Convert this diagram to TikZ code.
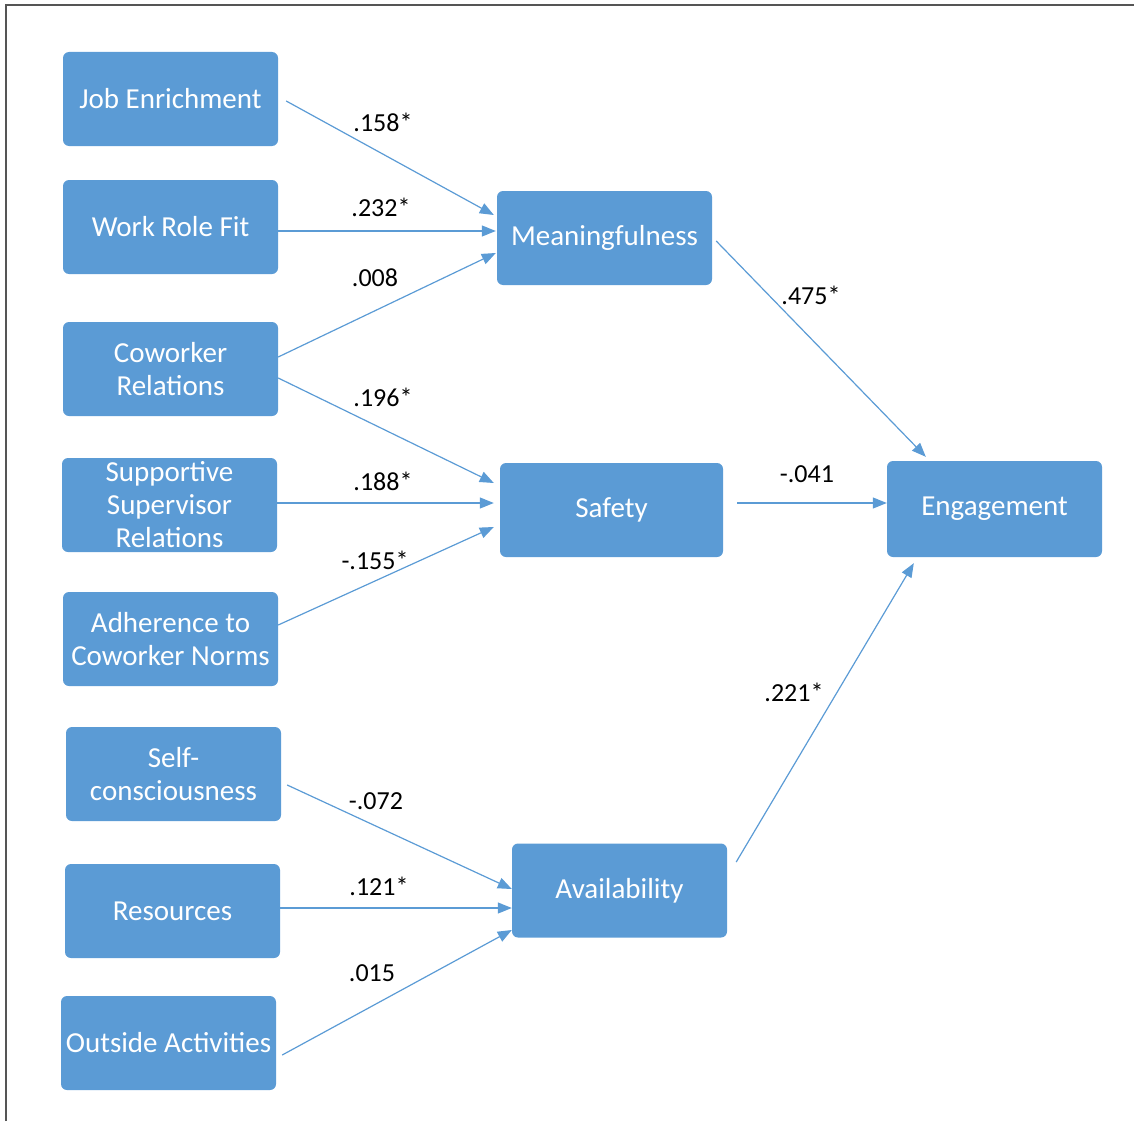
\documentclass[tikz,border=0pt]{standalone}
\usepackage{fontspec}
\setmainfont{Carlito}
\usetikzlibrary{arrows.meta,calc}
\definecolor{boxblue}{HTML}{5B9BD5}
\definecolor{framegray}{HTML}{555555}
\tikzset{
  varbox/.style={fill=boxblue, draw=none, rounded corners=6pt, minimum width=215pt, minimum height=94pt,
    text=white, font=\fontsize{29}{33}\selectfont, align=center, inner sep=0pt},
  path/.style={draw=boxblue, line width=1.2pt, -{Triangle[length=14pt,width=11pt]}},
  coef/.style={font=\fontsize{26}{30}\selectfont, text=black, inner sep=0pt},
}
\begin{document}
\begin{tikzpicture}[x=1pt,y=-1pt]
\useasboundingbox (0,0) rectangle (1134,1121);
\draw[framegray, line width=2pt] (6,1121) -- (6,5) -- (1134,5);
% left column
\node[varbox] (je) at (170.5,99) {Job Enrichment};
\node[varbox] (wrf) at (170.5,227) {Work Role Fit};
\node[varbox] (cr) at (170.5,369) {Coworker\\Relations};
\node[varbox] (ssr) at (169.5,505) {Supportive\\Supervisor\\Relations};
\node[varbox] (acn) at (170.5,639) {Adherence to\\Coworker Norms};
\node[varbox] (sc) at (173.5,774) {Self-\\consciousness};
\node[varbox] (res) at (172.5,911) {Resources};
\node[varbox] (oa) at (168.5,1043) {Outside Activities};
% middle
\node[varbox] (mea) at (604.5,238) {Meaningfulness};
\node[varbox, minimum width=223pt] (saf) at (611.5,510) {Safety};
\node[varbox] (ava) at (619.5,890.5) {Availability};
% right
\node[varbox, minimum height=96pt] (eng) at (994.5,509) {Engagement};
% connectors
\draw[path] ($(je.east)+(8,2)$) -- ($(mea.west)+(-3,-23)$);
\draw[path] ($(wrf.east)+(0,4)$) -- ($(mea.west)+(-1,-7)$);
\draw[path] ($(cr.east)+(0,-12)$) -- ($(mea.west)+(-1,15)$);
\draw[path] ($(cr.east)+(0,9)$) -- ($(saf.west)+(-6,-27)$);
\draw[path] ($(ssr.east)+(0,-2)$) -- ($(saf.west)+(-6,-7)$);
\draw[path] ($(acn.east)+(0,-14)$) -- ($(saf.west)+(-6,17)$);
\draw[path] ($(mea.east)+(4,3)$) -- ($(eng.north west)+(39,-4)$);
\draw[path] ($(saf.east)+(14,-7)$) -- ($(eng.west)+(0,-6)$);
\draw[path] ($(ava.east)+(9,-28.5)$) -- ($(eng.south west)+(27,6)$);
\draw[path] ($(sc.east)+(6,11)$) -- ($(ava.west)+(0,-1.5)$);
\draw[path] ($(res.east)+(0,-3)$) -- ($(ava.west)+(0,17.5)$);
\draw[path] ($(oa.east)+(6,12)$) -- ($(ava.west)+(0,39.5)$);
% coefficients
\node[coef] (l1) at (383,122) {.158*};
\node[coef] (l2) at (381,207) {.232*};
\node[coef] (l3) at (375,278) {.008};
\node[coef] (l4) at (383,397) {.196*};
\node[coef] (l5) at (383,481) {.188*};
\node[coef] (l6) at (375,560) {-.155*};
\node[coef] (l7) at (811,295) {.475*};
\node[coef] (l8) at (807,474) {-.041};
\node[coef] (l9) at (794,692) {.221*};
\node[coef] (l10) at (376,801) {-.072};
\node[coef] (l11) at (379,886) {.121*};
\node[coef] (l12) at (372,973) {.015};
\end{tikzpicture}
\end{document}
